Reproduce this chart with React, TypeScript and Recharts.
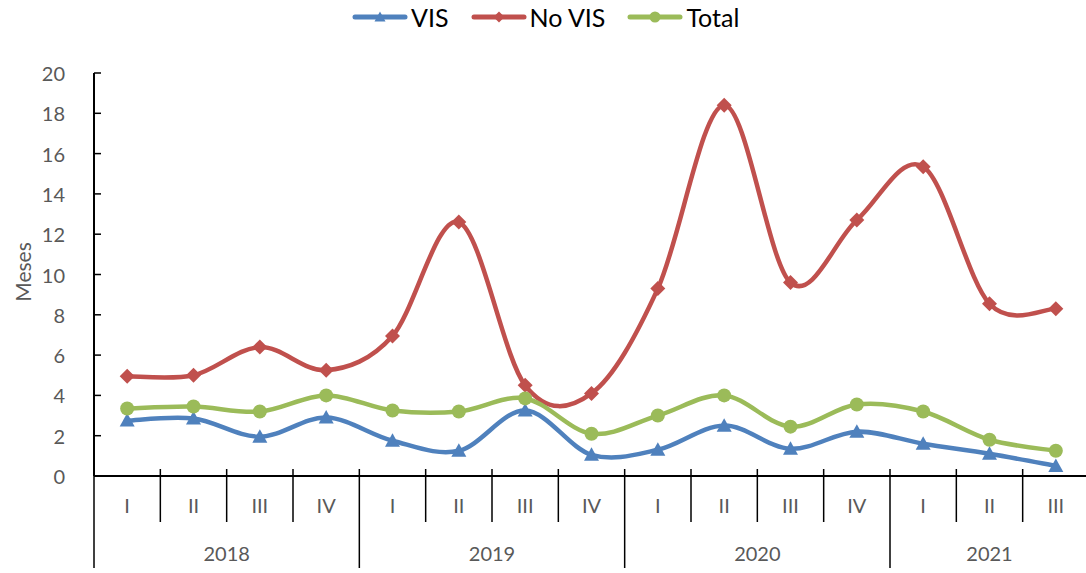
import { Line, LineChart, XAxis, YAxis } from 'recharts'

const years = ['2018', '2019', '2020', '2021']
const quarters = ['I', 'II', 'III', 'IV', 'I', 'II', 'III', 'IV', 'I', 'II', 'III', 'IV', 'I', 'II', 'III']
const vis = [2.75, 2.85, 1.95, 2.9, 1.75, 1.25, 3.25, 1.05, 1.3, 2.5, 1.35, 2.2, 1.6, 1.1, 0.5]
const noVis = [4.95, 5.0, 6.4, 5.25, 6.95, 12.6, 4.5, 4.1, 9.3, 18.4, 9.6, 12.7, 15.35, 8.55, 8.3]
const total = [3.35, 3.45, 3.2, 4.0, 3.25, 3.2, 3.85, 2.1, 3.0, 4.0, 2.45, 3.55, 3.2, 1.8, 1.25]
const yTicks = [0, 2, 4, 6, 8, 10, 12, 14, 16, 18, 20]

const BLUE = '#4F81BD'
const RED = '#C0504D'
const GREEN = '#9BBB59'
const GREY = '#595959'

const CHART_W = 1100
const CHART_H = 573
const AXIS_X = 94
const AXIS_Y = 476
const MARGIN = { top: 73, right: 11, bottom: 0, left: 0 }
const BAND = (CHART_W - MARGIN.right - AXIS_X) / quarters.length

const data = quarters.map((q, i) => ({
  key: `${years[Math.floor(i / 4)]}-${q}-${i}`,
  q,
  vis: vis[i],
  noVis: noVis[i],
  total: total[i],
}))

// excel style smoothing (catmull-rom through the points)
function smoothCurve(context: any) {
  let pts: number[][] = []
  return {
    areaStart() {},
    areaEnd() {},
    lineStart() {
      pts = []
    },
    point(x: number, y: number) {
      pts.push([+x, +y])
    },
    lineEnd() {
      if (!pts.length) return
      context.moveTo(pts[0][0], pts[0][1])
      for (let i = 0; i < pts.length - 1; i++) {
        const p0 = pts[i - 1] || pts[i]
        const p1 = pts[i]
        const p2 = pts[i + 1]
        const p3 = pts[i + 2] || p2
        context.bezierCurveTo(
          p1[0] + (p2[0] - p0[0]) / 6,
          p1[1] + (p2[1] - p0[1]) / 6,
          p2[0] - (p3[0] - p1[0]) / 6,
          p2[1] - (p3[1] - p1[1]) / 6,
          p2[0],
          p2[1],
        )
      }
    },
  }
}

const Triangle = ({ cx, cy, fill, s = 7.5 }: any) => (
  <polygon points={`${cx},${cy - s} ${cx + s},${cy + s * 0.8} ${cx - s},${cy + s * 0.8}`} fill={fill} />
)
const Diamond = ({ cx, cy, fill, s = 7.5 }: any) => (
  <polygon points={`${cx},${cy - s} ${cx + s},${cy} ${cx},${cy + s} ${cx - s},${cy}`} fill={fill} />
)
const Circle = ({ cx, cy, fill, s = 7 }: any) => <circle cx={cx} cy={cy} r={s} fill={fill} />

const YTick = ({ y, payload }: any) => (
  <g>
    <line x1={AXIS_X} x2={AXIS_X + 7} y1={y} y2={y} stroke="#000" strokeWidth={1.5} />
    <text x={65} y={y} textAnchor="end" dominantBaseline="central" fill={GREY} fontSize={20}>
      {payload.value}
    </text>
  </g>
)

const XTick = ({ x, index }: any) => {
  const left = x - BAND / 2
  const yearStart = index % 4 === 0
  const n = Math.min(4, quarters.length - index)
  return (
    <g>
      <line x1={left} x2={left} y1={yearStart && index === 0 ? AXIS_Y : AXIS_Y - 7} y2={yearStart ? 568 : 522} stroke="#000" strokeWidth={1.5} />
      <text x={x} y={505} textAnchor="middle" dominantBaseline="central" fill={GREY} fontSize={20}>
        {quarters[index]}
      </text>
      {yearStart && (
        <text x={left + (n * BAND) / 2} y={553} textAnchor="middle" dominantBaseline="central" fill={GREY} fontSize={20}>
          {years[Math.floor(index / 4)]}
        </text>
      )}
    </g>
  )
}

const legendItems = [
  { name: 'VIS', color: BLUE, Marker: Triangle },
  { name: 'No VIS', color: RED, Marker: Diamond },
  { name: 'Total', color: GREEN, Marker: Circle },
]

export default function App() {
  return (
    <div style={{ position: 'fixed', left: 0, top: 0, width: 1086, height: 573, overflow: 'hidden', background: '#fff', fontFamily: 'Lato, sans-serif' }}>
      <div style={{ position: 'absolute', top: 4, left: 352, display: 'flex', gap: 22, lineHeight: '26px' }}>
        {legendItems.map(({ name, color, Marker }) => (
          <div key={name} style={{ display: 'flex', alignItems: 'center', gap: 3, fontSize: 25, color: '#000' }}>
            <svg width={56} height={26}>
              <line x1={3} x2={53} y1={13} y2={13} stroke={color} strokeWidth={5} strokeLinecap="round" />
              <Marker cx={28} cy={13} fill={color} s={5.5} />
            </svg>
            <span>{name}</span>
          </div>
        ))}
      </div>
      <svg style={{ position: 'absolute', left: 0, top: 0 }} width={60} height={573}>
        <text x={22} y={272} transform="rotate(-90 22 272)" textAnchor="middle" dominantBaseline="central" fill={GREY} fontSize={21} fontFamily="Lato, sans-serif">
          Meses
        </text>
      </svg>
      <LineChart width={CHART_W} height={CHART_H} data={data} margin={MARGIN} style={{ fontFamily: 'Lato, sans-serif' }}>
        <XAxis
          dataKey="key"
          interval={0}
          height={97}
          tickLine={false}
          axisLine={{ stroke: '#000', strokeWidth: 2 }}
          padding={{ left: BAND / 2, right: BAND / 2 }}
          tick={<XTick />}
        />
        <YAxis
          width={AXIS_X}
          domain={[0, 20]}
          ticks={yTicks}
          interval={0}
          tickLine={false}
          axisLine={{ stroke: '#000', strokeWidth: 2 }}
          tick={<YTick />}
        />
        <Line dataKey="vis" type={smoothCurve as any} stroke={BLUE} strokeWidth={4.5} dot={<Triangle fill={BLUE} />} activeDot={false} isAnimationActive={false} />
        <Line dataKey="noVis" type={smoothCurve as any} stroke={RED} strokeWidth={4.5} dot={<Diamond fill={RED} />} activeDot={false} isAnimationActive={false} />
        <Line dataKey="total" type={smoothCurve as any} stroke={GREEN} strokeWidth={4.5} dot={<Circle fill={GREEN} />} activeDot={false} isAnimationActive={false} />
      </LineChart>
    </div>
  )
}
